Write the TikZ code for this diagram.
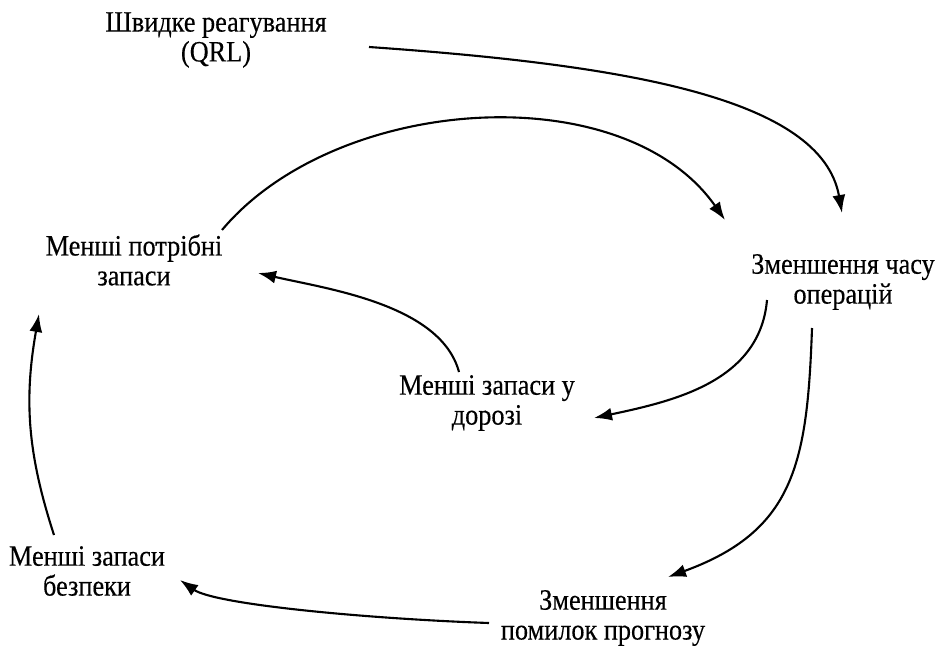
\documentclass[tikz,border=0pt]{standalone}
\usepackage{fontspec}
\setmainfont[FakeStretch=0.89,FakeBold=0.3]{Liberation Serif}
\usetikzlibrary{arrows.meta,calc}
\tikzset{
  factor/.style={align=center,inner sep=0pt,font=\fontsize{16.8}{17}\selectfont},
  link/.style={-{Latex[length=3.6mm,width=2.6mm]},line width=1.2pt}
}

\begin{document}
\begin{tikzpicture}[x=0.02cm,y=-0.02cm]
\useasboundingbox (0,0) rectangle (935,645);
\node[factor] (qrl) at (216,40) {Швидке реагування\\(QRL)};
\node[factor] (need) at (134,260) {Менші потрібні\\запаси};
\node[factor] (ops) at (843,282) {Зменшення часу\\операцій};
\node[factor] (road) at (487,403) {Менші запаси у\\дорозі};
\node[factor] (safe) at (87,571) {Менші запаси\\безпеки};
\node[factor] (err) at (603,618) {Зменшення\\помилок прогнозу};
\draw[link] ($(qrl)+(153,7)$) to[out=-4,in=100,out looseness=1.3,in looseness=0.6] ($(ops)+(-1,-69)$);
\draw[link] ($(need)+(88,-30)$) to[out=50,in=125,looseness=0.9] ($(ops)+(-118,-62)$);
\draw[link] ($(ops)+(-76,18)$) to[out=-95,in=12] ($(road)+(107,15)$);
\draw[link] ($(road)+(-28,-31)$) to[out=105,in=-13,looseness=0.8] ($(need)+(124,13)$);
\draw[link] ($(ops)+(-31,46)$) to[out=-92,in=20,looseness=1.2] ($(err)+(65,-41)$);
\draw[link] ($(err)+(-114,5)$) to[out=178,in=-35,out looseness=1,in looseness=0.35] ($(safe)+(93,9)$);
\draw[link] ($(safe)+(-33,-36)$) to[out=108,in=-100] ($(need)+(-95,54)$);
\end{tikzpicture}
\end{document}
